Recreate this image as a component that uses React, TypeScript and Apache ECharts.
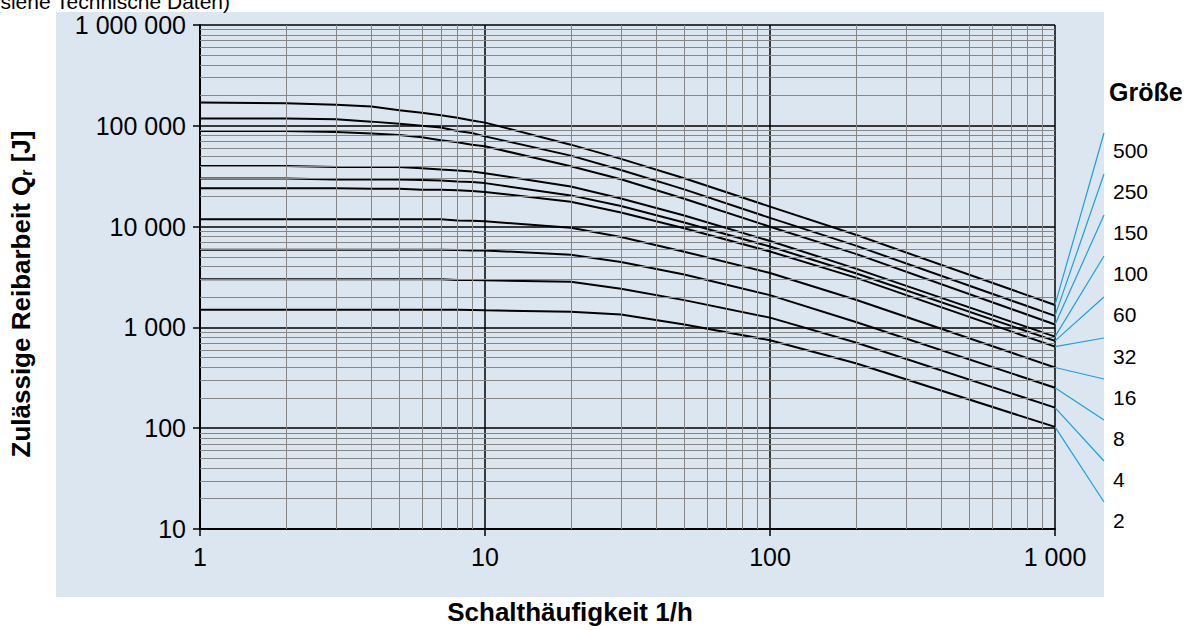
import React, { useEffect, useRef } from "react";
import * as echarts from "echarts";

// Schalthäufigkeit (switching frequency) 1/h
const frequency = [1, 2, 3, 4, 5, 6, 7, 8, 9, 10, 20, 30, 50, 100, 200, 1000];

// Permissible friction work Qr [J] per size
const sizes = ["500", "250", "150", "100", "60", "32", "16", "8", "4", "2"];
const q500 = [170000, 167000, 162000, 155000, 143000, 135000, 127000, 120000, 113000, 107500, 65000, 47000, 30200, 15800, 8300, 1670];
const q250 = [118000, 118000, 116000, 110000, 105000, 100000, 96000, 89000, 85000, 78500, 50600, 36500, 23400, 12200, 6470, 1300];
const q150 = [89000, 89000, 87000, 84000, 81000, 77000, 72000, 68500, 65000, 62600, 39700, 29500, 18900, 9970, 5360, 1070];
const q100 = [40000, 40000, 39000, 39000, 39000, 38000, 36800, 36000, 35200, 33900, 25000, 19000, 12900, 7200, 3830, 810];
const q60 = [30000, 30000, 29400, 29300, 29300, 29000, 28700, 28000, 27700, 27000, 20400, 16000, 11000, 6340, 3450, 735];
const q32 = [24000, 24000, 24000, 23800, 23800, 23200, 23200, 22900, 22600, 22100, 17600, 13800, 9640, 5660, 3120, 645];
const q16 = [11800, 11800, 11800, 11800, 11800, 11800, 11800, 11500, 11400, 11300, 9750, 7900, 5640, 3460, 1880, 400];
const q8 = [5900, 5900, 5900, 5900, 5900, 5900, 5900, 5850, 5800, 5800, 5250, 4450, 3350, 2090, 1130, 252];
const q4 = [3000, 3000, 3000, 3000, 3000, 3000, 3000, 2950, 2950, 2940, 2830, 2420, 1865, 1250, 709, 160];
const q2 = [1500, 1500, 1500, 1500, 1500, 1500, 1500, 1500, 1490, 1480, 1430, 1340, 1066, 746, 441, 103];
const curves = [q500, q250, q150, q100, q60, q32, q16, q8, q4, q2];

// log-paper minor grid values
const xMinor = [2, 3, 4, 5, 6, 7, 8, 9, 20, 30, 40, 50, 60, 70, 80, 90, 200, 300, 400, 500, 600, 700, 800, 900];
const yMinor = [
  20, 30, 40, 50, 60, 70, 80, 90,
  200, 300, 400, 500, 600, 700, 800, 900,
  2000, 3000, 4000, 5000, 6000, 7000, 8000, 9000,
  20000, 30000, 40000, 50000, 60000, 70000, 80000, 90000,
  200000, 300000, 400000, 500000, 600000, 700000, 800000, 900000,
];

const FONT = "'Liberation Sans', Arial, Helvetica, sans-serif";
const BLUE_BG = "#dce6f1";
const LEADER = "#1aa0e0";

// layout of the size legend on the right
const LEADER_X = 1104;
const LEADER_TOP = 133;
const LEADER_STEP = 41;
const LABEL_X = 1113;
const LABEL_TOP = 150;
const LABEL_STEP = 41.2;

const fmt = (v: number) => String(Math.round(v)).replace(/\B(?=(\d{3})+(?!\d))/g, " ");

export default function App() {
  const ref = useRef<HTMLDivElement>(null);

  useEffect(() => {
    const chart = echarts.init(ref.current!, null, { renderer: "svg" });

    const minorGrid = {
      type: "line",
      name: "grid",
      data: [],
      z: 1,
      silent: true,
      markLine: {
        silent: true,
        animation: false,
        symbol: ["none", "none"],
        label: { show: false },
        emphasis: { disabled: true },
        lineStyle: { color: "#868686", width: 1, type: "solid" },
        data: [
          ...xMinor.map((v) => ({ xAxis: v })),
          ...yMinor.map((v) => ({ yAxis: v })),
        ],
      },
    };

    const lineSeries = curves.map((vals, i) => ({
      type: "line",
      name: sizes[i],
      data: frequency.map((f, j) => [f, vals[j]]),
      showSymbol: false,
      symbol: "none",
      z: 3,
      silent: true,
      lineStyle: { color: "#000", width: 2 },
    }));

    const baseGraphic: any[] = [
      {
        type: "rect",
        z: -10,
        silent: true,
        shape: { x: 56, y: 12, width: 1048, height: 585 },
        style: { fill: BLUE_BG },
      },
      {
        type: "text",
        z: 10,
        x: 230,
        y: 1,
        style: {
          text: "(siehe Technische Daten)",
          font: `21px ${FONT}`,
          fill: "#000",
          align: "right",
          verticalAlign: "middle",
        },
      },
      {
        type: "text",
        z: 10,
        x: 1109,
        y: 92,
        style: {
          text: "Größe",
          font: `bold 25px ${FONT}`,
          fill: "#000",
          align: "left",
          verticalAlign: "middle",
        },
      },
    ];

    chart.setOption({
      animation: false,
      backgroundColor: "#ffffff",
      textStyle: { fontFamily: FONT },
      grid: { left: 198, right: 135, top: 25, bottom: 97, containLabel: false },
      xAxis: {
        type: "log",
        logBase: 10,
        min: 1,
        max: 1000,
        name: "Schalthäufigkeit 1/h",
        nameLocation: "middle",
        nameGap: 70,
        nameTextStyle: {
          fontFamily: FONT,
          fontSize: 26,
          fontWeight: "bold",
          color: "#000",
          padding: [0, 115, 0, 0],
        },
        axisLine: { show: true, lineStyle: { color: "#000", width: 2 } },
        axisTick: { show: true, length: 7, lineStyle: { color: "#000", width: 1.5 } },
        axisLabel: { fontFamily: FONT, fontSize: 25, color: "#000", margin: 15, formatter: fmt },
        splitLine: { show: true, lineStyle: { color: "#000", width: 1.5 } },
        minorTick: { show: false },
      },
      yAxis: {
        type: "log",
        logBase: 10,
        min: 10,
        max: 1000000,
        name: "Zulässige Reibarbeit Q{sub|r} [J]",
        nameLocation: "middle",
        nameRotate: 90,
        nameGap: 166,
        nameTextStyle: {
          fontFamily: FONT,
          fontSize: 26,
          fontWeight: "bold",
          color: "#000",
          padding: [0, 34, 0, 0],
          rich: {
            sub: { fontFamily: FONT, fontSize: 16, fontWeight: "bold", color: "#000", verticalAlign: "bottom" },
          },
        },
        axisLine: { show: true, lineStyle: { color: "#000", width: 2 } },
        axisTick: { show: true, length: 7, lineStyle: { color: "#000", width: 1.5 } },
        axisLabel: { fontFamily: FONT, fontSize: 25, color: "#000", margin: 14, formatter: fmt },
        splitLine: { show: true, lineStyle: { color: "#000", width: 1.5 } },
        minorTick: { show: false },
      },
      series: [minorGrid, ...lineSeries],
      graphic: baseGraphic,
    });

    const leaders = curves.map((vals, i) => {
      const p = chart.convertToPixel({ gridIndex: 0 } as any, [
        frequency[frequency.length - 1],
        vals[vals.length - 1],
      ]) as number[];
      return {
        type: "line",
        z: 10,
        silent: true,
        shape: { x1: p[0], y1: p[1], x2: LEADER_X, y2: LEADER_TOP + i * LEADER_STEP },
        style: { stroke: LEADER, lineWidth: 1.2 },
      };
    });
    const labels = sizes.map((s, i) => ({
      type: "text",
      z: 10,
      x: LABEL_X,
      y: LABEL_TOP + i * LABEL_STEP,
      style: {
        text: s,
        font: `21px ${FONT}`,
        fill: "#000",
        align: "left",
        verticalAlign: "middle",
      },
    }));

    chart.setOption({ graphic: [...baseGraphic, ...leaders, ...labels] });

    return () => chart.dispose();
  }, []);

  return (
    <div
      ref={ref}
      style={{ position: "fixed", left: 0, top: 0, width: 1190, height: 630, background: "#fff" }}
    />
  );
}
